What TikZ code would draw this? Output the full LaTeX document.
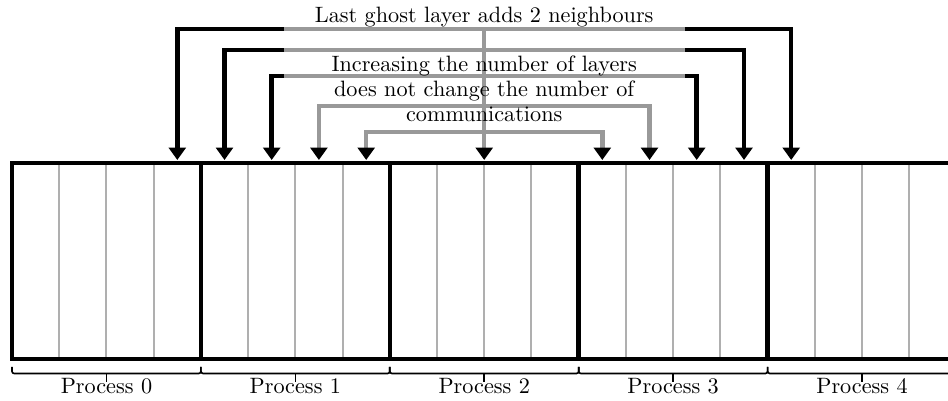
\documentclass[tikz,border=0pt]{standalone}
\usetikzlibrary{arrows.meta}
\definecolor{arrgrey}{RGB}{153,153,153}
\definecolor{sepgrey}{RGB}{175,175,175}
\begin{document}
\begin{tikzpicture}[x=0.45pt,y=-0.45pt,
  blk/.style={line width=2pt, black, line join=miter},
  gry/.style={line width=2pt, arrgrey, line join=miter},
  tipend/.style={-{Triangle[color=black,length=5.6pt,width=7.6pt]}},
  tipboth/.style={{Triangle[color=black,length=5.6pt,width=7.6pt]}-{Triangle[color=black,length=5.6pt,width=7.6pt]}},
  sep/.style={line width=0.9pt, sepgrey},
  bound/.style={line width=2pt, black, line join=miter},
  brc/.style={line width=0.75pt, black, rounded corners=1pt},
  lbl/.style={anchor=base, inner sep=0pt}]
\useasboundingbox (0,0) rectangle (948,401);

% cell separators
\foreach \i in {1,2,3,5,6,7,9,10,11,13,14,15,17,18,19}
  \draw[sep] ({12+47.22*\i},163) -- ({12+47.22*\i},359);
% process boundaries
\foreach \k in {1,...,4}
  \draw[bound] ({12+188.9*\k},163) -- ({12+188.9*\k},359);
\draw[bound] (965,163) -- (12,163) -- (12,359) -- (965,359);

% arrow targets
\coordinate (tipL1) at (177.3,160);
\coordinate (tipL2) at (224.5,160);
\coordinate (tipL3) at (271.7,160);
\coordinate (tipL4) at (318.9,160);
\coordinate (tipL5) at (366.2,160);
\coordinate (tipM)  at (484.2,160);
\coordinate (tipR1) at (602.3,160);
\coordinate (tipR2) at (649.5,160);
\coordinate (tipR3) at (696.7,160);
\coordinate (tipR4) at (744.0,160);
\coordinate (tipR5) at (791.2,160);
% junctions
\coordinate (j1l) at (284,29);
\coordinate (j1r) at (685,29);
\coordinate (j2l) at (284,50);
\coordinate (j2r) at (685,50);
\coordinate (j3l) at (284,76);
\coordinate (j3r) at (685,76);
\coordinate (m1)  at (484.2,29);
\coordinate (g4)  at (484.2,106);
\coordinate (g5)  at (484.2,132);

% grey connectors
\draw[gry] (j1l) -- (j1r);
\draw[gry] (j2l) -- (j2r);
\draw[gry] (j3l) -- (j3r);
\draw[gry,tipboth] (tipL4) |- (g4) -| (tipR2);
\draw[gry,tipboth] (tipL5) |- (g5) -| (tipR1);
\draw[gry,tipend] (m1) -- (tipM);

% black connectors
\draw[blk,tipend] (j1l) -| (tipL1);
\draw[blk,tipend] (j1r) -| (tipR5);
\draw[blk,tipend] (j2l) -| (tipL2);
\draw[blk,tipend] (j2r) -| (tipR4);
\draw[blk,tipend] (j3l) -| (tipL3);
\draw[blk,tipend] (j3r) -| (tipR3);

% texts
\node[lbl] (t1) at (484.2,23) {Last ghost layer adds 2 neighbours};
\node[lbl] (t2) at (484.2,72) {Increasing the number of layers};
\node[lbl] (t3) at (484.2,96.5) {does not change the number of};
\node[lbl] (t4) at (484.2,122) {communications};

% brackets and process labels
\foreach \k in {0,...,4} {
  \coordinate (bl\k) at ({12+188.9*\k},367);
  \coordinate (br\k) at ({12+188.9*(\k+1)},367);
  \coordinate (bm\k) at ({12+188.9*(\k+0.5)},373.5);
  \coordinate (bt\k) at ({12+188.9*(\k+0.5)},382);
  \draw[brc] (bl\k) |- (bm\k) -| (br\k);
  \draw[line width=0.75pt] (bm\k) -- (bt\k);
  \node[lbl] (p\k) at ({12+188.9*(\k+0.5)},394) {Process \k};
}
\end{tikzpicture}
\end{document}
